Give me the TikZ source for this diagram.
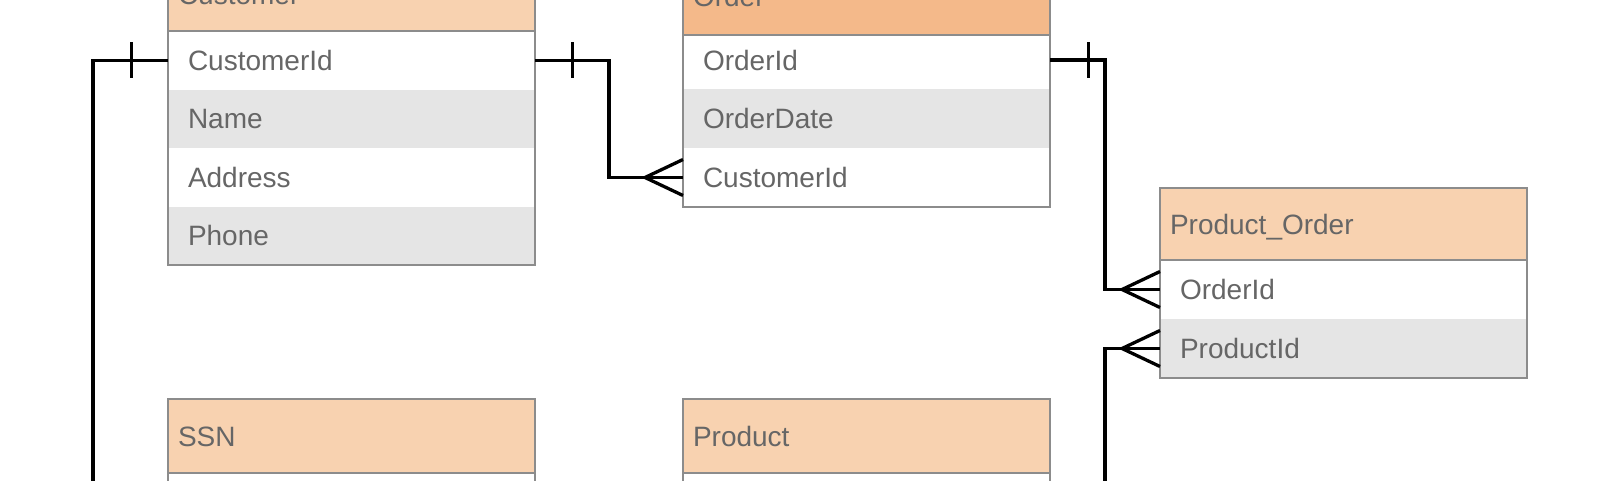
\documentclass[tikz,border=0pt]{standalone}
\usepackage{fontspec}
\setmainfont{Liberation Sans}
\usetikzlibrary{calc}
\definecolor{hdrlight}{RGB}{248,210,176}
\definecolor{hdrdark}{RGB}{244,185,138}
\definecolor{rowgray}{RGB}{229,229,229}
\definecolor{bordergray}{RGB}{140,140,140}
\definecolor{txtgray}{RGB}{102,102,102}
\tikzset{
  rowbase/.style={rectangle, anchor=north west, minimum width=367pt, minimum height=58.5pt,
    inner xsep=20pt, inner ysep=0pt, text width=327pt, align=left,
    text height=20pt, text depth=0pt, text=txtgray, outer sep=0pt},
  whiterow/.style={rowbase, fill=white},
  grayrow/.style={rowbase, fill=rowgray},
  hdr/.style={rowbase, inner xsep=10pt, text width=347pt, minimum height=73pt, fill=hdrlight},
  hdrsel/.style={hdr, fill=hdrdark},
  border/.style={draw=bordergray, line width=1.8pt},
  rel/.style={draw=black, line width=3.3pt},
  tickmark/.style={draw=black, line width=3pt},
}
\begin{document}
\begin{tikzpicture}[x=1pt,y=-1pt,font=\fontsize{28}{32}\selectfont]
\useasboundingbox (0,0) rectangle (1600,480);
\clip (0,0) rectangle (1600,480);
\fill[white] (0,0) rectangle (1600,480);

% Customer
\node[hdr] (cust-h) at (168,-42) {Customer};
\node[whiterow] (cust-id) at (cust-h.south west) {CustomerId};
\node[grayrow] (cust-name) at (cust-id.south west) {Name};
\node[whiterow] (cust-addr) at (cust-name.south west) {Address};
\node[grayrow] (cust-phone) at (cust-addr.south west) {Phone};
\draw[border] (cust-h.north west) rectangle (cust-phone.south east);
\draw[border] (cust-h.south west) -- (cust-h.south east);

% Order
\node[hdrsel, minimum height=77pt] (ord-h) at (683,-42) {Order};
\node[whiterow, minimum height=54pt, text depth=4pt] (ord-id) at (ord-h.south west) {OrderId};
\node[grayrow, minimum height=59pt] (ord-date) at (ord-id.south west) {OrderDate};
\node[whiterow, minimum height=59pt] (ord-cid) at (ord-date.south west) {CustomerId};
\draw[border] (ord-h.north west) rectangle (ord-cid.south east);
\draw[border] (ord-h.south west) -- (ord-h.south east);

% Product_Order
\node[hdr, minimum height=72pt] (po-h) at (1160,188) {Product\_Order};
\node[whiterow, minimum height=59pt] (po-oid) at (po-h.south west) {OrderId};
\node[grayrow, minimum height=59pt] (po-pid) at (po-oid.south west) {ProductId};
\draw[border] (po-h.north west) rectangle (po-pid.south east);
\draw[border] (po-h.south west) -- (po-h.south east);

% SSN
\node[hdr, minimum height=74pt] (ssn-h) at (168,399) {SSN};
\node[whiterow] (ssn-r) at (ssn-h.south west) {};
\draw[border] (ssn-h.north west) rectangle (ssn-r.south east);
\draw[border] (ssn-h.south west) -- (ssn-h.south east);

% Product
\node[hdr, minimum height=74pt] (prod-h) at (683,399) {Product};
\node[whiterow] (prod-r) at (prod-h.south west) {};
\draw[border] (prod-h.north west) rectangle (prod-r.south east);
\draw[border] (prod-h.south west) -- (prod-h.south east);

% free ends below the frame
\coordinate (cfree) at (93,520);
\coordinate (pfree) at (1105,520);

% Customer -- (below)
\draw[rel] (cust-id.west) -| (cfree);
\draw[tickmark] ($(cust-id.west)+(-37,-18)$) -- ++(0,36);

% Customer -> Order
\draw[rel] (cust-id.east) -- ++(74,0) |- (ord-cid.west);
\draw[tickmark] ($(cust-id.east)+(37,-18)$) -- ++(0,36);
\draw[rel] ($(ord-cid.west)+(0,-18)$) -- ($(ord-cid.west)+(-38,0)$) -- ($(ord-cid.west)+(0,18)$);

% Order -> Product_Order
\coordinate (ordconn) at ($(ord-id.east)+(0,-2)$);
\draw[rel] (ordconn) -- ++(55,0) |- (po-oid.west);
\draw[tickmark] ($(ordconn)+(38,-18)$) -- ++(0,36);
\draw[rel] ($(po-oid.west)+(0,-18)$) -- ($(po-oid.west)+(-38,0)$) -- ($(po-oid.west)+(0,18)$);

% Product -> Product_Order
\draw[rel] (pfree) |- (po-pid.west);
\draw[rel] ($(po-pid.west)+(0,-18)$) -- ($(po-pid.west)+(-38,0)$) -- ($(po-pid.west)+(0,18)$);
\end{tikzpicture}
\end{document}
